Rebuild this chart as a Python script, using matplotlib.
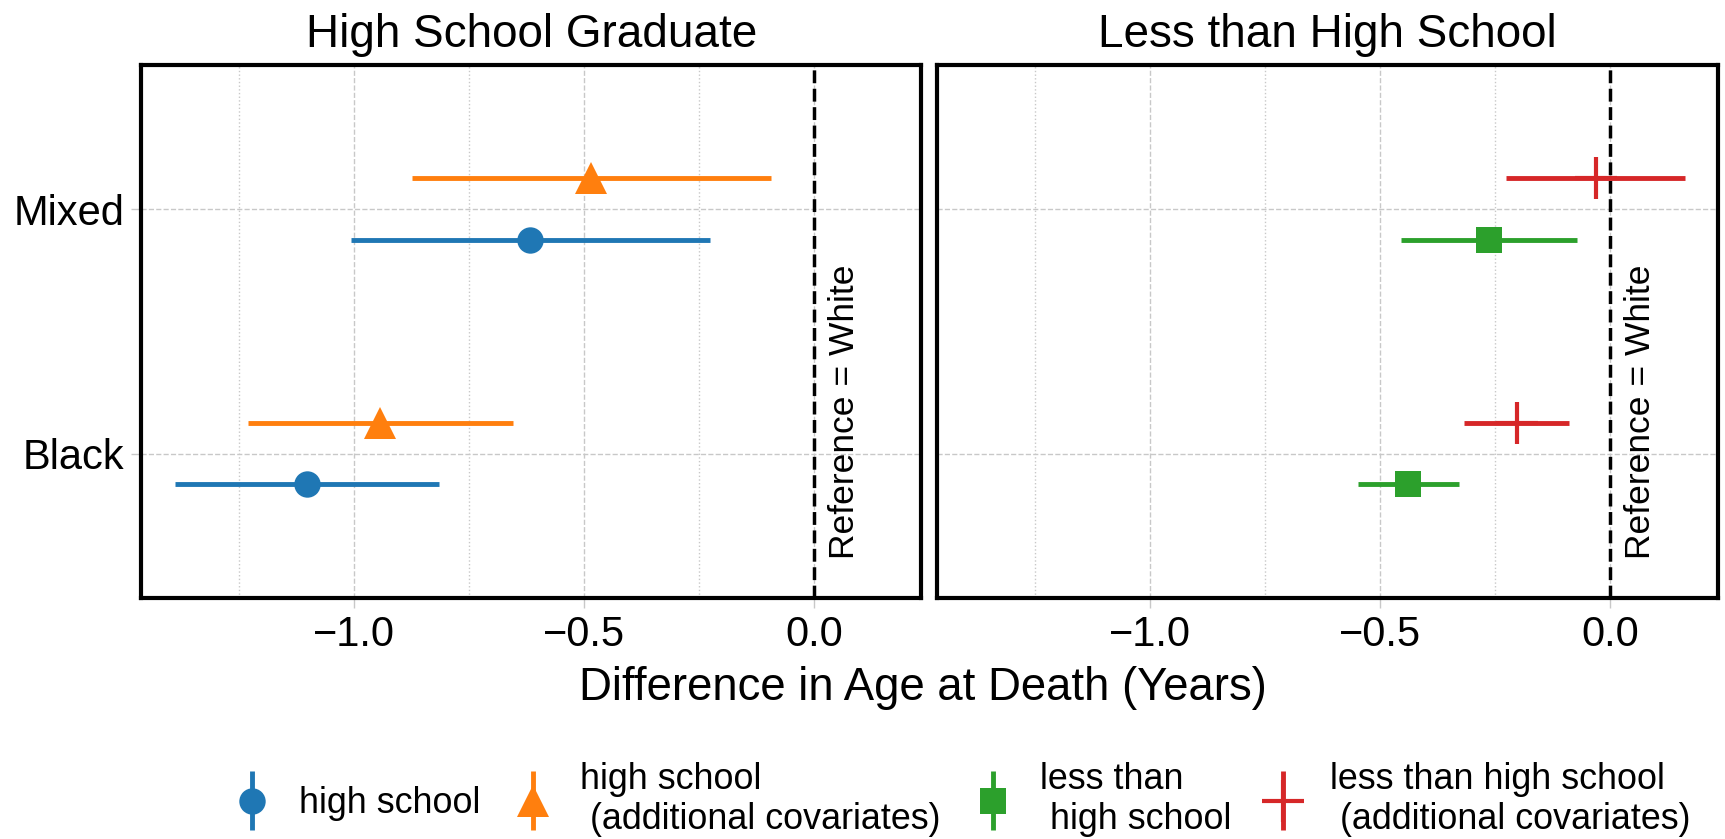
import numpy as np
import matplotlib
matplotlib.use("Agg")
import matplotlib.pyplot as plt
from matplotlib.lines import Line2D
from matplotlib.collections import LineCollection
from matplotlib.container import ErrorbarContainer
from matplotlib.legend_handler import HandlerErrorbar
from matplotlib.ticker import MultipleLocator

plt.rcParams['font.family'] = ['Liberation Sans', 'DejaVu Sans']
plt.rcParams['axes.unicode_minus'] = True

groups = ['Black', 'Mixed']

# high school graduates
hs_est = [-1.103, -0.617]
hs_lo = [-1.388, -1.006]
hs_hi = [-0.814, -0.226]

hs_cov_est = [-0.944, -0.484]
hs_cov_lo = [-1.230, -0.873]
hs_cov_hi = [-0.655, -0.094]

# less than high school
lhs_est = [-0.439, -0.264]
lhs_lo = [-0.547, -0.455]
lhs_hi = [-0.328, -0.071]

lhs_cov_est = [-0.202, -0.031]
lhs_cov_lo = [-0.317, -0.226]
lhs_cov_hi = [-0.088, 0.163]

labels = ['high school', 'high school\n (additional covariates)',
          'less than\n high school', 'less than high school\n (additional covariates)']
colors = ['#1f77b4', '#ff7f0e', '#2ca02c', '#d62728']

fig = plt.figure(figsize=(17.25, 8.39), dpi=100)
ax1 = fig.add_axes([0.0817, 0.287, 0.4525, 0.636])
ax2 = fig.add_axes([0.5432, 0.287, 0.4525, 0.636], sharex=ax1, sharey=ax1)

ypos = np.arange(len(groups))
off = 0.125
elw = 3.5


def draw(ax, est, lo, hi, y, color, fmt, ms, mew=0):
    est = np.array(est)
    err = [est - np.array(lo), np.array(hi) - est]
    ax.errorbar(est, y, xerr=err, fmt=fmt, color=color, ms=ms, mew=mew,
                elinewidth=elw, capsize=0, zorder=3)


draw(ax1, hs_est, hs_lo, hs_hi, ypos - off, colors[0], 'o', 19)
draw(ax1, hs_cov_est, hs_cov_lo, hs_cov_hi, ypos + off, colors[1], '^', 23)
draw(ax2, lhs_est, lhs_lo, lhs_hi, ypos - off, colors[2], 's', 19)
draw(ax2, lhs_cov_est, lhs_cov_lo, lhs_cov_hi, ypos + off, colors[3], '+', 30, mew=3)

ax1.set_title('High School Graduate', fontsize=33, pad=13)
ax2.set_title('Less than High School', fontsize=33, pad=13)

for ax in (ax1, ax2):
    ax.axvline(0, color='black', ls='--', lw=2.5, zorder=2)
    ax.text(0.03, -0.43, 'Reference = White', rotation=90, fontsize=25.5,
            ha='left', va='bottom')
    ax.set_xlim(-1.463, 0.234)
    ax.set_ylim(-0.59, 1.59)
    ax.xaxis.set_major_locator(MultipleLocator(0.5))
    ax.xaxis.set_minor_locator(MultipleLocator(0.25))
    ax.grid(which='major', ls='--', color='#c8c8c8', lw=1)
    ax.grid(which='minor', axis='x', ls=':', color='#c8c8c8', lw=1)
    ax.set_axisbelow(True)
    ax.tick_params(which='major', labelsize=30, color='#c8c8c8', length=7,
                   width=1, pad=5)
    ax.tick_params(which='minor', length=0)
    for sp in ax.spines.values():
        sp.set_linewidth(3)
        sp.set_color('black')

ax1.set_yticks(ypos)
ax1.set_yticklabels(groups)
ax2.tick_params(axis='y', labelleft=False, length=0)

fig.text(0.535, 0.18, 'Difference in Age at Death (Years)', fontsize=32.8,
         ha='center', va='center')

# legend proxies drawn with vertical error bars
markers = [('o', 19, 0), ('^', 23, 0), ('s', 19, 0), ('+', 30, 3)]
handles = []
for (m, s, w), c, lab in zip(markers, colors, labels):
    ln = Line2D([], [], marker=m, ms=s, mew=w, color=c, ls='none')
    bar = LineCollection([], colors=c, linewidths=elw)
    handles.append(ErrorbarContainer((ln, (), (bar,)), has_xerr=False,
                                     has_yerr=True, label=lab))

fig.legend(handles=handles, labels=labels, loc='center', ncol=4,
           bbox_to_anchor=(0.557, 0.047), frameon=False, fontsize=25.8,
           handler_map={ErrorbarContainer: HandlerErrorbar(xerr_size=0.82)},
           handlelength=1.2, handletextpad=0.72, columnspacing=0.85)

fig.savefig('out.png', dpi=100)
